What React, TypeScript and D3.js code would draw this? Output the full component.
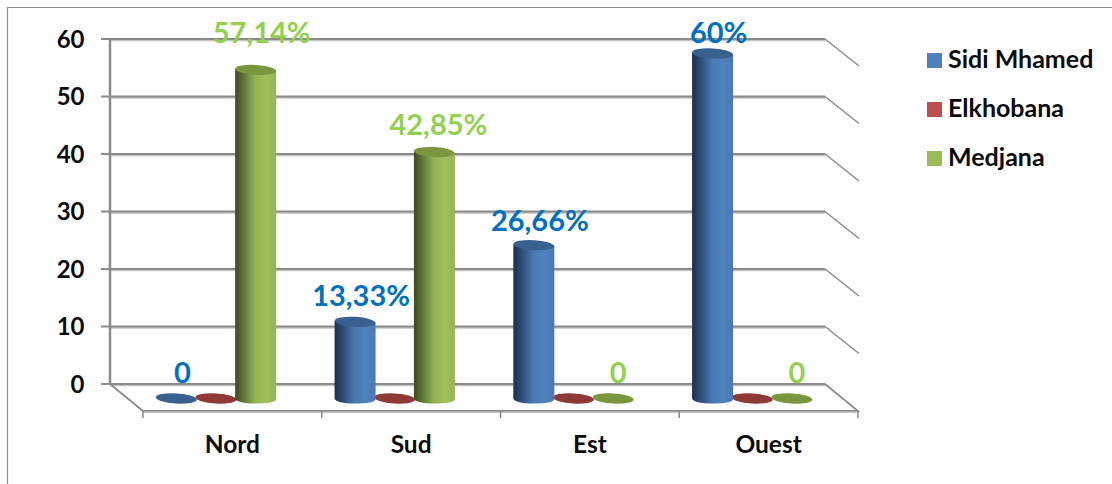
import React from "react";
import * as d3 from "d3";

const categories = ["Nord", "Sud", "Est", "Ouest"];
const seriesNames = ["Sidi Mhamed", "Elkhobana", "Medjana"];
const sidiMhamed = [0, 13.33, 26.66, 60];
const elkhobana = [0, 0, 0, 0];
const medjana = [57.14, 42.85, 0, 0];
const yTicks = [0, 10, 20, 30, 40, 50, 60];
const sidiLabels = ["0", "13,33%", "26,66%", "60%"];
const medjanaLabels = ["57,14%", "42,85%", "0", "0"];

const FONT = "Lato, 'Open Sans', sans-serif";
const GRID = "#8b8b8b";
const GRID_SOFT = "#c4c4c4";
const LABEL_BLUE = "#0070c0";
const LABEL_GREEN = "#92d050";

// Shading for each series: cylinder gradient stops, top cap, legend swatch.
const palette = [
  { dark: "#1b2f4c", mid: "#4a7ab5", light: "#4f81bd", cap: "#38618f", swatch: "#4f81bd" },
  { dark: "#5a1f1e", mid: "#b54c49", light: "#c0504d", cap: "#8f3a38", swatch: "#c0504d" },
  { dark: "#3c4a22", mid: "#94b556", light: "#a2c05c", cap: "#7a963f", swatch: "#9bbb59" },
];
const values = [sidiMhamed, elkhobana, medjana];

// Oblique floor depth of the 3D box.
const DEPTH_X = 34;
const DEPTH_Y = 27;

const y = d3.scaleLinear().domain([0, 60]).range([384, 39]);
const xFront = d3.scaleBand().domain(categories).range([143, 858]);
const xSeries = d3
  .scaleBand()
  .domain(seriesNames)
  .range([0, 119])
  .paddingInner(0)
  .paddingOuter(0);

const BAR_W = 41;
const RY = 5;
const BASE_OFFSET = 14.5; // floor position of the cylinder base below the value-0 gridline

const barCx = (c: string, s: string) =>
  (xFront(c) as number) + 15 + (xSeries(s) as number) + xSeries.bandwidth() / 2 - 1.5;
const baseY = y(0) + BASE_OFFSET;
const topY = (v: number) => baseY - (y(0) - y(v));

// Hand-placed data labels, offset from the top of their cylinder.
const labelShift: Record<string, [number, number]> = {
  "Sidi Mhamed|Nord": [6, -16],
  "Sidi Mhamed|Sud": [6, -16],
  "Sidi Mhamed|Est": [6, -14],
  "Sidi Mhamed|Ouest": [6, -11],
  "Medjana|Nord": [6, -27],
  "Medjana|Sud": [4, -17],
  "Medjana|Est": [5, -16],
  "Medjana|Ouest": [5, -16],
};

function Cylinder({ cx, v, si }: { cx: number; v: number; si: number }) {
  const p = palette[si];
  const top = topY(v);
  const r = BAR_W / 2;
  const cap = (
    <ellipse
      cx={cx}
      cy={top}
      rx={r}
      ry={RY}
      fill={p.cap}
      transform={`rotate(3.5 ${cx} ${top})`}
    />
  );
  if (v === 0) return cap;
  const body = d3.path();
  body.moveTo(cx - r, top - 1);
  body.lineTo(cx - r, baseY);
  body.quadraticCurveTo(cx - r + 2, baseY + RY, cx, baseY + RY);
  body.quadraticCurveTo(cx + r - 2, baseY + RY, cx + r, baseY + 1);
  body.lineTo(cx + r, top + 1);
  body.closePath();
  return (
    <g>
      <path d={body.toString()} fill={`url(#cyl${si})`} />
      {cap}
    </g>
  );
}

export default function App() {
  const frontTicks = [...categories.map((c) => xFront(c) as number), 858];
  const drawOrder = [1, 2, 0];
  return (
    <svg
      width={1112}
      height={484}
      style={{ position: "absolute", left: 0, top: 0, background: "#fff" }}
      fontFamily={FONT}
      fontWeight={700}
    >
      <defs>
        {palette.map((p, i) => (
          <linearGradient id={`cyl${i}`} key={i} x1="0" x2="1" y1="0" y2="0">
            <stop offset="0" stopColor={p.dark} />
            <stop offset="0.5" stopColor={p.mid} />
            <stop offset="0.75" stopColor={p.light} />
            <stop offset="1" stopColor={p.mid} />
          </linearGradient>
        ))}
      </defs>

      {/* outer frame, open to the right and below */}
      <path d="M7.5 484V7.5H1112" fill="none" stroke="#8a8a8a" strokeWidth={1.2} />

      {/* back wall gridlines with side-wall returns */}
      {yTicks.map((t) => (
        <g key={t}>
          <line x1={110} x2={825} y1={y(t) + 1.2} y2={y(t) + 1.2} stroke={GRID_SOFT} strokeWidth={2} />
          <line x1={101} x2={825} y1={y(t)} y2={y(t)} stroke={GRID} strokeWidth={1.8} />
          {t > 0 && (
            <line
              x1={825}
              y1={y(t)}
              x2={825 + DEPTH_X}
              y2={y(t) + DEPTH_Y}
              stroke={GRID}
              strokeWidth={1.5}
            />
          )}
          <text x={84.5} y={y(t) + 8.5} textAnchor="end" fontSize={24} fill="#0a0a0a">
            {t}
          </text>
        </g>
      ))}
      <line x1={110} x2={110} y1={y(60) - 1} y2={y(0)} stroke={GRID} strokeWidth={2.5} />

      {/* floor outline */}
      <path
        d={`M110 ${y(0)}L${110 + DEPTH_X - 1} ${y(0) + DEPTH_Y}H858L825 ${y(0)}`}
        fill="none"
        stroke={GRID}
        strokeWidth={1.8}
      />
      <line x1={143} x2={858} y1={y(0) + DEPTH_Y + 1.2} y2={y(0) + DEPTH_Y + 1.2} stroke={GRID_SOFT} strokeWidth={1.5} />
      {frontTicks.map((x) => (
        <line key={x} x1={x} x2={x} y1={y(0) + DEPTH_Y} y2={y(0) + DEPTH_Y + 7} stroke={GRID} strokeWidth={1.5} />
      ))}

      {/* cylinders */}
      {categories.map((c, ci) => (
        <g key={c}>
          {drawOrder.map((si) => (
            <Cylinder key={si} cx={barCx(c, seriesNames[si])} v={values[si][ci]} si={si} />
          ))}
        </g>
      ))}

      {/* category labels */}
      {categories.map((c) => (
        <text
          key={c}
          x={(xFront(c) as number) + xFront.bandwidth() / 2}
          y={453}
          textAnchor="middle"
          fontSize={24.5}
          fill="#0a0a0a"
        >
          {c}
        </text>
      ))}

      {/* data labels */}
      {categories.map((c, ci) => {
        const rows = [
          { s: seriesNames[0], v: sidiMhamed[ci], t: sidiLabels[ci], col: LABEL_BLUE },
          { s: seriesNames[2], v: medjana[ci], t: medjanaLabels[ci], col: LABEL_GREEN },
        ];
        return rows
          .filter((r) => !(r.v === 0 && r.s === seriesNames[0] && ci > 0) && !(r.v === 0 && r.s === seriesNames[2] && ci < 2))
          .map((r) => {
            const [dx, dy] = labelShift[`${r.s}|${c}`];
            return (
              <text
                key={r.s}
                x={barCx(c, r.s) + dx}
                y={topY(r.v) + dy}
                textAnchor="middle"
                fontSize={29}
                fill={r.col}
              >
                {r.t}
              </text>
            );
          });
      })}

      {/* legend */}
      {seriesNames.map((s, i) => (
        <g key={s} transform={`translate(927 ${53 + i * 49})`}>
          <rect width={15} height={15} fill={palette[i].swatch} />
          <text x={21} y={15} fontSize={25} fill="#0a0a0a">
            {s}
          </text>
        </g>
      ))}
    </svg>
  );
}
